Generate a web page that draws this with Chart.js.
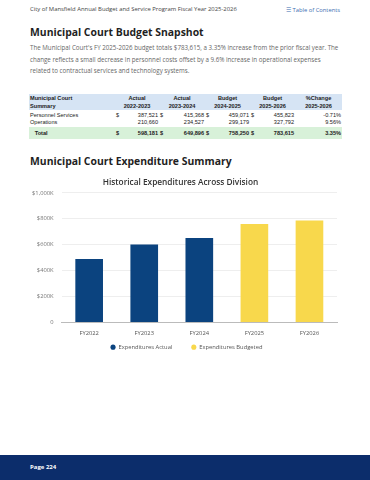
<!DOCTYPE html>
<html lang="en">
<head>
    <meta charset="UTF-8">
    <title>Municipal Court Budget Snapshot</title>
    <script src="https://cdn.jsdelivr.net/npm/chart.js"></script>
    <style>
        body { margin: 0; width: 370px; height: 480px; position: relative; overflow: hidden; background: #fff; font-family: "Open Sans", Lato, sans-serif; }
        .top { position: absolute; top: 5px; left: 30px; font-size: 5.9px; color: #444; }
        .toc { position: absolute; top: 6px; left: 286px; font-size: 5.8px; color: #3b6db0; }
        h1 { position: absolute; margin: 0; left: 30px; font-size: 10.4px; line-height: 14px; font-weight: 700; color: #1f1f1f; }
        p.intro { position: absolute; top: 42px; left: 30px; width: 310px; margin: 0; font-size: 6.2px; line-height: 11.6px; color: #666; }
        table { position: absolute; top: 94px; left: 29px; width: 313px; table-layout: fixed; border-collapse: collapse; font-family: "Liberation Sans", Arial, sans-serif; font-size: 5.6px; color: #222; }
        td { padding: 0 1px; line-height: 7px; white-space: nowrap; overflow: visible; }
        tr.head td { background: #d6e4f4; font-weight: bold; text-align: center; vertical-align: top; line-height: 7.5px; padding-top: 1px; height: 15px; }
        tr.head td.l { text-align: left; }
        tr.p1 td { padding-top: 2px; }
        tr.p2 td { padding-top: 0px; padding-bottom: 1px; }
        tr.tot td { background: #d8f1d9; font-weight: bold; height: 12px; }
        .r { text-align: right; }
        .d { text-align: left; }
        .footer { position: absolute; left: 0; top: 455px; width: 370px; height: 25px; background: #0c2d6b; }
        .footer span { position: absolute; left: 30px; top: 8px; font-size: 6px; font-weight: bold; color: #fff; }
        #wrap { position: absolute; left: 0; top: 172px; width: 357px; height: 208px; }
    </style>
</head>
<body>
    <div class="top">City of Mansfield Annual Budget and Service Program Fiscal Year 2025-2026</div>
    <div class="toc">&#9776; Table of Contents</div>
    <h1 style="top: 25px;">Municipal Court Budget Snapshot</h1>
    <p class="intro">The Municipal Court's FY 2025-2026 budget totals $783,615, a 3.35% increase from the prior fiscal year. The change reflects a small decrease in personnel costs offset by a 9.6% increase in operational expenses related to contractual services and technology systems.</p>

    <table>
        <colgroup>
            <col style="width:86px"><col style="width:8px"><col style="width:36px">
            <col style="width:8px"><col style="width:38px"><col style="width:8px">
            <col style="width:37px"><col style="width:8px"><col style="width:37px"><col style="width:47px">
        </colgroup>
        <tr class="head"><td class="l">Municipal Court<br>Summary</td><td colspan="2">Actual<br>2022-2023</td><td colspan="2">Actual<br>2023-2024</td><td colspan="2">Budget<br>2024-2025</td><td colspan="2">Budget<br>2025-2026</td><td>%Change<br>2025-2026</td></tr>
        <tr class="p1"><td>Personnel Services</td><td class="d">$</td><td class="r">387,521</td><td class="d">$</td><td class="r">415,368</td><td class="d">$</td><td class="r">459,071</td><td class="d">$</td><td class="r">455,823</td><td class="r">-0.71%</td></tr>
        <tr class="p2"><td>Operations</td><td></td><td class="r">210,660</td><td></td><td class="r">234,527</td><td></td><td class="r">299,179</td><td></td><td class="r">327,792</td><td class="r">9.56%</td></tr>
        <tr class="tot"><td>&nbsp;&nbsp;&nbsp;Total</td><td class="d">$</td><td class="r">598,181</td><td class="d">$</td><td class="r">649,896</td><td class="d">$</td><td class="r">758,250</td><td class="d">$</td><td class="r">783,615</td><td class="r">3.35%</td></tr>
    </table>

    <h1 style="top: 154px;">Municipal Court Expenditure Summary</h1>

    <div id="wrap"><canvas id="myChart"></canvas></div>

    <div class="footer"><span>Page 224</span></div>

    <script>
        const years = ['FY2022', 'FY2023', 'FY2024', 'FY2025', 'FY2026'];
        const actual = [487000, 598181, 649896, null, null];
        const budgeted = [null, null, null, 758250, 783615];
        const yTicks = [0, 200000, 400000, 600000, 800000, 1000000];

        // legend padding also sets the gap between items; lift the legend
        // so the wide gap doesn't push it far below the year labels
        const liftLegend = {
            id: 'liftLegend',
            afterLayout(chart) {
                const lg = chart.legend;
                const shift = lg.top - (chart.scales.x.top + 3);
                lg.top -= shift;
                lg.bottom -= shift;
                lg.left += 6;
                lg.right += 6;
            }
        };

        const ctx = document.getElementById('myChart');
        new Chart(ctx, {
            type: 'bar',
            data: {
                labels: years,
                datasets: [
                    { label: 'Expenditures Actual', data: actual, backgroundColor: '#0b437f' },
                    { label: 'Expenditures Budgeted', data: budgeted, backgroundColor: '#f8d84c' }
                ]
            },
            plugins: [liftLegend],
            options: {
                responsive: true,
                maintainAspectRatio: false,
                animation: false,
                skipNull: true,
                barThickness: 27,
                layout: { padding: { left: 24, right: 20 } },
                plugins: {
                    title: {
                        display: true,
                        text: 'Historical Expenditures Across Division',
                        color: '#333',
                        font: { family: 'Open Sans', size: 8.3, weight: '600' },
                        padding: { top: 6, bottom: 5 }
                    },
                    legend: {
                        position: 'bottom',
                        labels: {
                            usePointStyle: true,
                            pointStyle: 'circle',
                            boxWidth: 5,
                            boxHeight: 3.6,
                            padding: 19,
                            color: '#555',
                            font: { family: 'Open Sans', size: 5.8 }
                        }
                    },
                    tooltip: { enabled: false }
                },
                scales: {
                    x: {
                        grid: { display: false, drawTicks: false },
                        border: { color: '#bbb' },
                        ticks: { color: '#555', padding: 8, font: { family: 'Open Sans', size: 5.8 } }
                    },
                    y: {
                        min: 0,
                        max: 1000000,
                        afterBuildTicks: (axis) => { axis.ticks = yTicks.map(v => ({ value: v })); },
                        grid: { color: '#eeeeee', drawTicks: false },
                        border: { display: false },
                        ticks: {
                            color: '#777',
                            padding: 8,
                            font: { family: 'Open Sans', size: 5.8 },
                            callback: (v) => v === 0 ? '0' : '$' + (v / 1000).toLocaleString('en-US') + 'K'
                        }
                    }
                }
            }
        });
    </script>
</body>
</html>
